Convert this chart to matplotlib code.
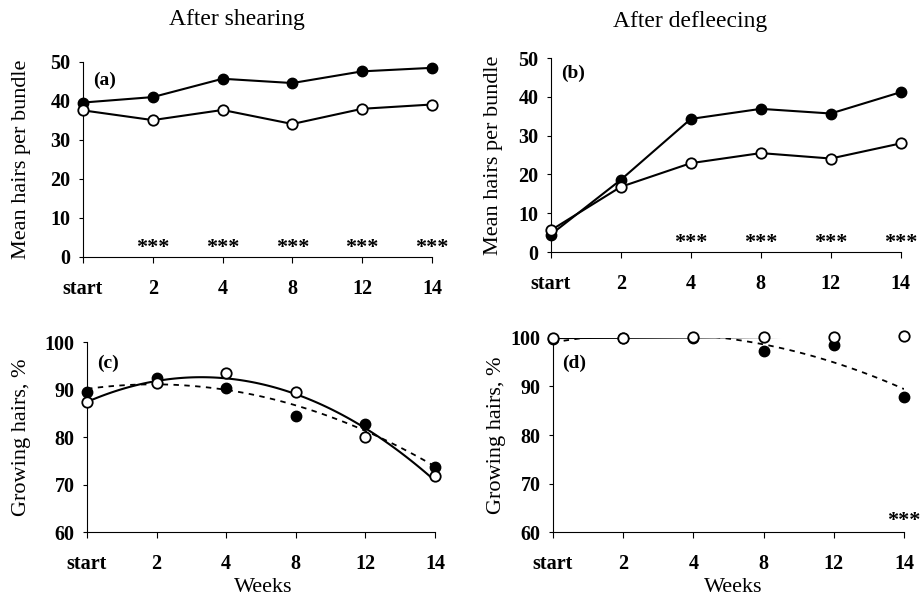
import numpy as np
import matplotlib
matplotlib.use("Agg")
import matplotlib.pyplot as plt

plt.rcParams['font.family'] = ['Liberation Serif', 'DejaVu Serif']

weeks = ["start", "2", "4", "8", "12", "14"]

# (a) After shearing - mean hairs per bundle
a_filled = [39.6, 41.0, 45.7, 44.6, 47.6, 48.5]
a_open = [37.6, 35.1, 37.7, 34.1, 38.0, 39.1]
a_stars = ["2", "4", "8", "12", "14"]

# (b) After defleecing - mean hairs per bundle
b_filled = [4.5, 18.6, 34.3, 36.9, 35.7, 41.2]
b_open = [5.6, 16.8, 22.9, 25.5, 24.1, 28.0]
b_stars = ["4", "8", "12", "14"]

# (c) After shearing - growing hairs %
c_filled = [89.4, 92.5, 90.3, 84.4, 82.7, 73.6]
c_open = [87.3, 91.3, 93.5, 89.5, 79.9, 71.7]

# (d) After defleecing - growing hairs %
d_filled = [99.8, 100.0, 100.0, 97.4, 98.5, 87.8]
d_open = [100.0, 100.0, 100.1, 100.2, 100.3, 100.4]
d_stars = ["14"]

fig = plt.figure(figsize=(9.21, 6.03), dpi=100)

boxes = {
    'a': [0.0901, 0.5738, 0.469 - 0.0901, 0.8972 - 0.5738],
    'b': [0.598, 0.582, 0.978 - 0.598, 0.9038 - 0.582],
    'c': [0.0945, 0.1177, 0.4723 - 0.0945, 0.4328 - 0.1177],
    'd': [0.6004, 0.1177, 0.9815 - 0.6004, 0.4395 - 0.1177],
}

x = np.arange(len(weeks))
ms = 7.5
lw = 1.5


def style(ax, ylim, yticks, ylabel, labx):
    ax.set_xlim(0, len(weeks) - 1)
    ax.set_ylim(*ylim)
    ax.set_yticks(yticks)
    ax.set_xticks(x)
    ax.set_xticklabels(weeks)
    for s in ['top', 'right']:
        ax.spines[s].set_visible(False)
    for s in ['left', 'bottom']:
        ax.spines[s].set_linewidth(0.8)
    ax.tick_params(axis='x', length=4, width=0.8, pad=12, labelsize=14.5)
    ax.tick_params(axis='y', length=3, width=0.8, pad=6, labelsize=14.5)
    for lab in ax.get_xticklabels() + ax.get_yticklabels():
        lab.set_fontweight('bold')
    ax.set_ylabel(ylabel, fontsize=16)
    ax.yaxis.set_label_coords(labx, 0.5)


def stars(ax, cats, yv):
    for c in cats:
        ax.text(weeks.index(c), yv, "***", ha='center', va='center', fontsize=16, fontweight='bold')


def trend(ax, yvals, **kw):
    # 2nd-order polynomial trendline over the category positions
    p = np.polyfit(x, yvals, 2)
    xf = np.linspace(0, len(weeks) - 1, 100)
    ax.plot(xf, np.polyval(p, xf), color='black', zorder=2, **kw)


# (a)
ax = fig.add_axes(boxes['a'])
ax.plot(x, a_filled, '-o', color='black', lw=lw, ms=ms, mfc='black', mec='black', clip_on=False, zorder=3)
ax.plot(x, a_open, '-o', color='black', lw=lw, ms=ms, mfc='white', mec='black', mew=1.3, clip_on=False, zorder=3)
style(ax, (0, 50), range(0, 51, 10), "Mean hairs per bundle", -0.149)
stars(ax, a_stars, 2.3)
ax.text(0.03, 0.908, "(a)", transform=ax.transAxes, fontsize=14, fontweight='bold', va='center')

# (b)
ax = fig.add_axes(boxes['b'])
ax.plot(x, b_filled, '-o', color='black', lw=lw, ms=ms, mfc='black', mec='black', clip_on=False, zorder=3)
ax.plot(x, b_open, '-o', color='black', lw=lw, ms=ms, mfc='white', mec='black', mew=1.3, clip_on=False, zorder=3)
style(ax, (0, 50), range(0, 51, 10), "Mean hairs per bundle", -0.137)
stars(ax, b_stars, 2.3)
ax.text(0.03, 0.92, "(b)", transform=ax.transAxes, fontsize=14, fontweight='bold', va='center')

# (c)
ax = fig.add_axes(boxes['c'])
trend(ax, c_open, lw=lw, ls='-')
trend(ax, c_filled, lw=1.3, ls=(0, (3, 3)))
ax.plot(x, c_filled, 'o', ms=ms, mfc='black', mec='black', clip_on=False, zorder=3)
ax.plot(x, c_open, 'o', ms=ms, mfc='white', mec='black', mew=1.3, clip_on=False, zorder=3)
style(ax, (60, 100), range(60, 101, 10), "Growing hairs, %", -0.161)
ax.set_xlabel("Weeks", fontsize=16)
ax.xaxis.set_label_coords(0.506, -0.242)
ax.text(0.03, 0.89, "(c)", transform=ax.transAxes, fontsize=14, fontweight='bold', va='center')

# (d)
ax = fig.add_axes(boxes['d'])
trend(ax, d_open, lw=lw, ls='-')
trend(ax, d_filled, lw=1.3, ls=(0, (3, 3)))
ax.plot(x, d_filled, 'o', ms=ms, mfc='black', mec='black', clip_on=False, zorder=3)
ax.plot(x, d_open, 'o', ms=ms, mfc='white', mec='black', mew=1.3, clip_on=False, zorder=4)
style(ax, (60, 100), range(60, 101, 10), "Growing hairs, %", -0.134)
ax.set_xlabel("Weeks", fontsize=16)
ax.xaxis.set_label_coords(0.513, -0.237)
stars(ax, d_stars, 62.3)
ax.text(0.025, 0.87, "(d)", transform=ax.transAxes, fontsize=14, fontweight='bold', va='center')

fig.text(0.257, 0.967, "After shearing", ha='center', va='center', fontsize=17)
fig.text(0.749, 0.964, "After defleecing", ha='center', va='center', fontsize=17)

fig.savefig("out.png", dpi=100)
